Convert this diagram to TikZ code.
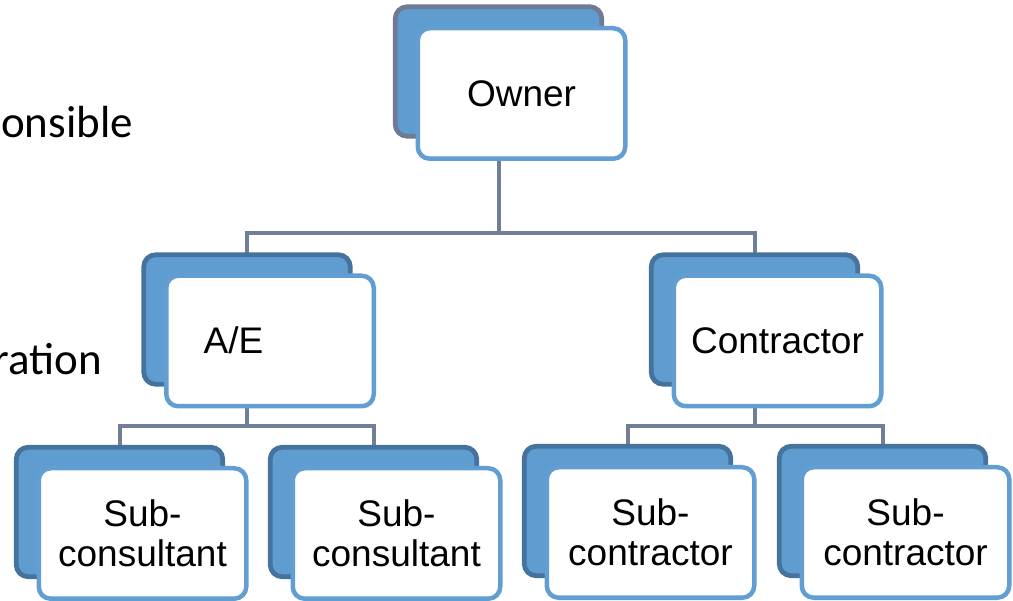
\documentclass[tikz,border=0pt]{standalone}
\usepackage{fontspec}
\setmainfont{Liberation Sans}
\newfontfamily\calibri{Carlito}
\usetikzlibrary{backgrounds}
\definecolor{backfill}{RGB}{95,157,209}
\definecolor{backdraw}{RGB}{70,114,158}
\definecolor{ownerdraw}{RGB}{111,123,148}
\definecolor{frontdraw}{RGB}{98,158,210}
\definecolor{conncol}{RGB}{112,126,152}
\tikzset{
  backbox/.style={draw=backdraw, fill=backfill, line width=4.8pt, rounded corners=12pt,
    minimum width=206.5pt, minimum height=129.5pt, inner sep=0pt, outer sep=0pt},
  frontbox/.style={draw=frontdraw, fill=white, line width=4.5pt, rounded corners=12pt,
    minimum width=207.5pt, minimum height=130.5pt, inner sep=0pt, outer sep=0pt,
    align=center, font=\fontsize{37}{40}\selectfont},
  boxtext/.style={inner sep=0pt, font=\fontsize{37}{40}\selectfont},
  conn/.style={draw=conncol, line width=4pt},
  sidetext/.style={font=\calibri\fontsize{45}{54}\selectfont, anchor=base east, inner sep=0pt}
}
\begin{document}
\begin{tikzpicture}[x=1pt,y=-1pt]
\useasboundingbox (0,0) rectangle (1013,601);
\coordinate (bus1) at (0,233);
\coordinate (bus2) at (0,426);

\node[sidetext] (resp) at (133,138) {onsible};
\node[sidetext] (rat) at (102,375) {ration};

\node[backbox, draw=ownerdraw] (ownB) at (498.5,71.5) {};
\node[frontbox] (ownF) at (521.5,93.5) {Owner};

\node[backbox] (aeB) at (247,319.5) {};
\node[frontbox] (aeF) at (270,341) {};
\node[boxtext] (aeT) at (233.5,340) {A/E};

\node[backbox] (conB) at (754.5,319.5) {};
\node[frontbox] (conF) at (777.5,341) {Contractor};

\node[backbox] (sc1B) at (119.5,512) {};
\node[frontbox] (sc1F) at (142.5,533.5) {Sub-\\consultant};
\node[backbox] (sc2B) at (373.5,512) {};
\node[frontbox] (sc2F) at (396.5,533.5) {Sub-\\consultant};

\node[backbox] (sub1B) at (627.5,511) {};
\node[frontbox] (sub1F) at (650.5,532.5) {Sub-\\contractor};
\node[backbox] (sub2B) at (882.5,511) {};
\node[frontbox] (sub2F) at (905.5,532.5) {Sub-\\contractor};

\begin{scope}[on background layer]
  \draw[conn] (ownB.center |- ownF.south) -- (ownB.center |- bus1);
  \draw[conn] (aeB.north) |- (ownB.center |- bus1) -| (conB.north);
  \draw[conn] (aeB.center |- aeF.south) -- (aeB.center |- bus2);
  \draw[conn] (sc1B.north) |- (aeB.center |- bus2) -| (sc2B.north);
  \draw[conn] (conB.center |- conF.south) -- (conB.center |- bus2);
  \draw[conn] (sub1B.north) |- (conB.center |- bus2) -| (sub2B.north);
\end{scope}
\end{tikzpicture}
\end{document}
